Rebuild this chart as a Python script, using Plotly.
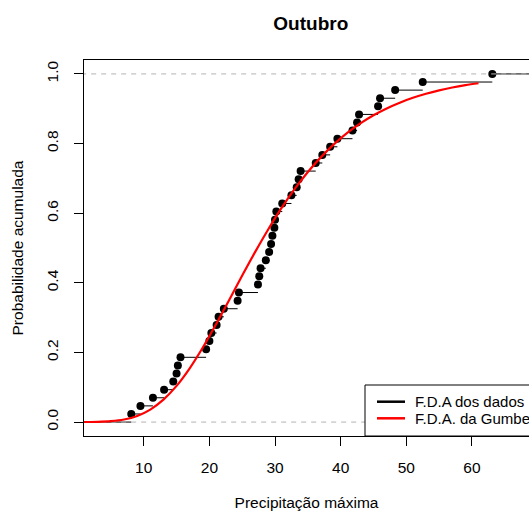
import numpy as np
import plotly.graph_objects as go

# ---- data ----
precip = [8.1, 9.5, 11.4, 13.1, 14.5, 15.0, 15.2, 15.6, 19.5, 20.0,
          20.3, 21.1, 21.4, 22.2, 24.3, 24.5, 27.4, 27.6, 27.8, 28.6,
          29.1, 29.4, 29.6, 29.9, 30.0, 30.2, 31.1, 32.5, 33.3, 33.6,
          33.9, 36.2, 37.2, 38.4, 39.5, 41.8, 42.5, 42.8, 45.7, 46.0,
          48.3, 52.5, 63.1]

gumbel_x = [0, 1, 3, 5, 7, 9, 11, 13, 15, 17, 19, 21, 23, 25, 27, 29, 31,
            33, 35, 37, 39, 41, 43, 45, 47, 49, 51, 53, 55, 57, 59, 61]
gumbel_F = [0.0001, 0.0002, 0.0008, 0.0027, 0.0075, 0.0177, 0.0359, 0.0643,
            0.1039, 0.1544, 0.2141, 0.2804, 0.3502, 0.4208, 0.4895, 0.5547,
            0.6150, 0.6696, 0.7183, 0.7610, 0.7983, 0.8304, 0.8578, 0.8812,
            0.9009, 0.9175, 0.9314, 0.9430, 0.9528, 0.9609, 0.9676, 0.9732]

x_ticks = [10, 20, 30, 40, 50, 60]
y_ticks = [0.0, 0.2, 0.4, 0.6, 0.8, 1.0]
y_ticktext = ["0.0", "0.2", "0.4", "0.6", "0.8", "1.0"]

title_text = "Outubro"
x_title = "Precipitação máxima"
y_title = "Probabilidade acumulada"
legend_labels = ["F.D.A dos dados", "F.D.A. da Gumbel"]

x_range = [0.9, 68.69]
y_range = [-0.04, 1.04]

# ---- ecdf ----
xs = np.sort(np.array(precip))
n = len(xs)
ys = np.arange(1, n + 1) / n

seg_x, seg_y = [], []
# left segment at 0
seg_x += [x_range[0] - 5, xs[0], None]
seg_y += [0, 0, None]
for i in range(n):
    x_end = xs[i + 1] if i + 1 < n else x_range[1] + 5
    seg_x += [xs[i], x_end, None]
    seg_y += [ys[i], ys[i], None]

FONT = "Liberation Sans, Arial, Helvetica, sans-serif"

fig = go.Figure()
fig.add_trace(go.Scatter(x=seg_x, y=seg_y, mode="lines",
                         line=dict(color="black", width=1),
                         showlegend=False, hoverinfo="skip"))
fig.add_trace(go.Scatter(x=xs, y=ys, mode="markers",
                         marker=dict(color="black", size=8),
                         showlegend=False))
for h in [0.0, 1.0]:
    fig.add_trace(go.Scatter(x=[x_range[0] - 5, x_range[1] + 5], y=[h, h],
                             mode="lines",
                             line=dict(color="#B3B3B3", width=1, dash="5px,5px"),
                             showlegend=False, hoverinfo="skip"))
fig.add_trace(go.Scatter(x=gumbel_x, y=gumbel_F, mode="lines",
                         line=dict(color="#FF0000", width=2.2, shape="spline"),
                         showlegend=False))

# ---- manual R-style legend (bottom right) ----
def px_x(p):
    return (p - 84) / 445.0

def px_y(p):
    return (436 - p) / 376.0

shapes = [
    dict(type="rect", xref="paper", yref="paper",
         x0=px_x(365), x1=1.05, y0=0, y1=px_y(385),
         line=dict(color="black", width=1), fillcolor="white", layer="above"),
]
legend_colors = ["black", "#FF0000"]
legend_rows = [401.7, 418.3]
annotations = []
for lab, col, ry in zip(legend_labels, legend_colors, legend_rows):
    shapes.append(dict(type="line", xref="paper", yref="paper",
                       x0=px_x(377), x1=px_x(405), y0=px_y(ry), y1=px_y(ry),
                       line=dict(color=col, width=2.5), layer="above"))
    annotations.append(dict(xref="paper", yref="paper", x=px_x(412.5),
                            y=px_y(ry), text=lab, showarrow=False,
                            xanchor="left", yanchor="middle",
                            font=dict(family=FONT, size=15, color="black")))

fig.update_layout(
    width=529, height=516,
    margin=dict(l=84, r=0, t=60, b=80),
    paper_bgcolor="white", plot_bgcolor="white",
    font=dict(family=FONT, size=15.5, color="black"),
    title=dict(text="<b>" + title_text + "</b>", x=(310.8 - 84) / 445.0,
               xref="paper", xanchor="center", y=1 - 23 / 516.0,
               yref="container", yanchor="middle",
               font=dict(family=FONT, size=19, color="black")),
    shapes=shapes, annotations=annotations,
    xaxis=dict(range=x_range, tickvals=x_ticks, ticks="outside", ticklen=9,
               tickcolor="black", tickwidth=1, showline=True, linecolor="black",
               linewidth=1, mirror=True, showgrid=False, zeroline=False,
               ticklabelstandoff=8,
               title=dict(text=x_title, standoff=22,
                          font=dict(family=FONT, size=15.5))),
    yaxis=dict(range=y_range, tickvals=y_ticks, ticktext=y_ticktext,
               ticks="outside", ticklen=9, tickcolor="black", tickwidth=1,
               showline=True, linecolor="black", linewidth=1, mirror=False,
               showgrid=False, zeroline=False, tickangle=-90,
               ticklabelstandoff=10,
               title=dict(text=y_title, standoff=16,
                          font=dict(family=FONT, size=15.5))),
)

fig.write_html("out.html")
